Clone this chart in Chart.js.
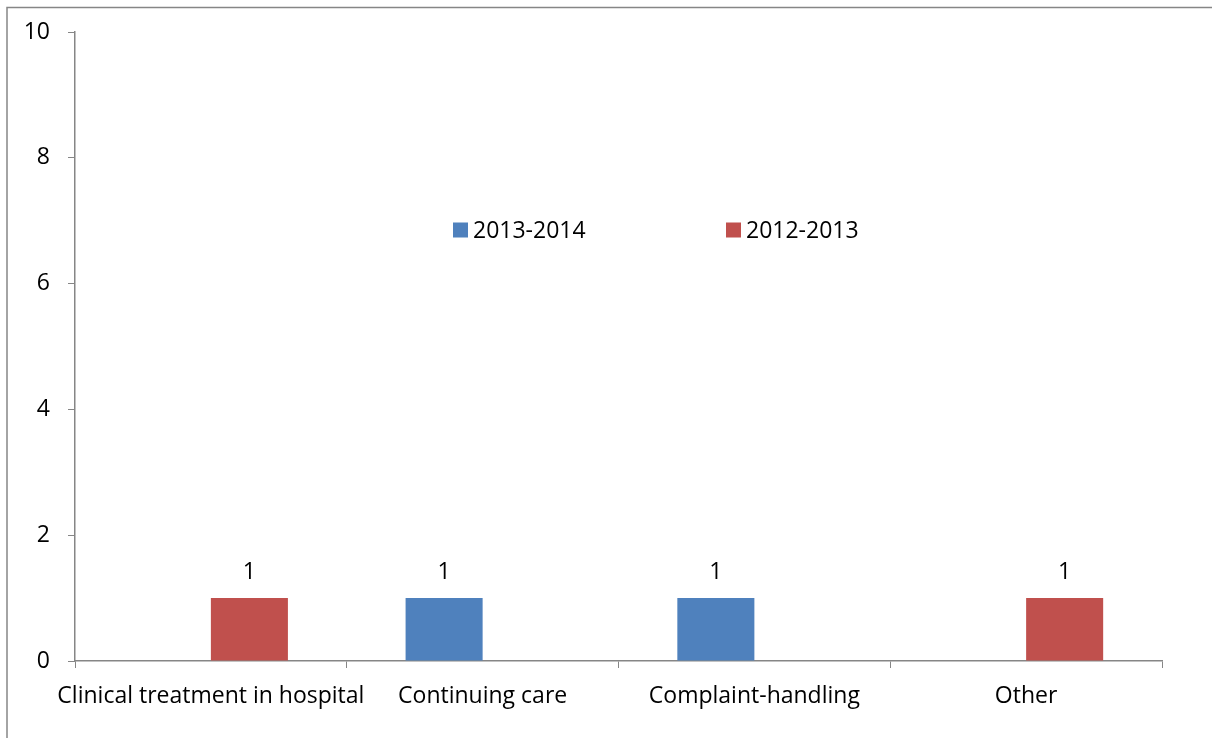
<!DOCTYPE html>
<html>
<head>
<meta charset="utf-8">
<script src="https://cdn.jsdelivr.net/npm/chart.js@4.4.1/dist/chart.umd.min.js"></script>
<style>
  html, body { margin: 0; padding: 0; background: #fff; }
  #wrap { width: 1212px; height: 738px; }
</style>
</head>
<body>
<div id="wrap"><canvas id="myChart" width="1212" height="738"></canvas></div>
<script>
// chart data
const categories = ['Clinical treatment in hospital', 'Continuing care', 'Complaint-handling', 'Other'];
const series2013 = [null, 1, 1, null];
const series2012 = [1, null, null, 1];
const yTicks = [0, 2, 4, 6, 8, 10];

const blue = '#4F81BD';
const red = '#C0504D';
const axisGrey = '#868686';
const fontFamily = "'Open Sans', 'Noto Sans', sans-serif";
const fontSize = 23;

// grey frame round the whole chart
const framePlugin = {
    id: 'frame',
    beforeDraw(chart) {
        const ctx = chart.ctx;
        ctx.save();
        ctx.strokeStyle = axisGrey;
        ctx.lineWidth = 1.5;
        ctx.strokeRect(7, 7.5, chart.width + 20, chart.height + 20);
        ctx.restore();
    }
};

// value labels above the bars
const valueLabels = {
    id: 'valueLabels',
    afterDatasetsDraw(chart) {
        const ctx = chart.ctx;
        ctx.save();
        ctx.font = fontSize + 'px ' + fontFamily;
        ctx.fillStyle = '#000';
        ctx.textAlign = 'center';
        ctx.textBaseline = 'middle';
        chart.data.datasets.forEach((ds, i) => {
            const meta = chart.getDatasetMeta(i);
            meta.data.forEach((bar, j) => {
                const v = ds.data[j];
                if (v === null || v === undefined) return;
                ctx.fillText(String(v), bar.x, bar.y - 26);
            });
        });
        ctx.restore();
    }
};

// legend drawn inside the plot area
const innerLegend = {
    id: 'innerLegend',
    afterDraw(chart) {
        const ctx = chart.ctx;
        const y = 230;
        const starts = [453, 726];
        ctx.save();
        ctx.font = fontSize + 'px ' + fontFamily;
        ctx.textBaseline = 'middle';
        ctx.textAlign = 'left';
        chart.data.datasets.forEach((ds, i) => {
            const x = starts[i];
            ctx.fillStyle = ds.backgroundColor;
            ctx.fillRect(x, y - 7.5, 15, 15);
            ctx.fillStyle = '#000';
            ctx.fillText(ds.label, x + 20, y + 1);
        });
        ctx.restore();
    }
};

const ctx = document.getElementById('myChart').getContext('2d');
new Chart(ctx, {
    type: 'bar',
    data: {
        labels: categories,
        datasets: [
            {
                label: '2013-2014',
                data: series2013,
                backgroundColor: blue
            },
            {
                label: '2012-2013',
                data: series2012,
                backgroundColor: red
            }
        ]
    },
    options: {
        responsive: false,
        animation: false,
        categoryPercentage: 0.567,
        barPercentage: 1,
        layout: {
            padding: { left: 0, top: 32, right: 50, bottom: 0 }
        },
        plugins: {
            legend: { display: false },
            tooltip: { enabled: false }
        },
        scales: {
            x: {
                grid: {
                    offset: true,
                    drawOnChartArea: false,
                    drawTicks: true,
                    tickLength: 7,
                    color: axisGrey
                },
                border: { color: axisGrey, width: 1.5 },
                ticks: {
                    color: '#000',
                    font: { size: fontSize, family: fontFamily },
                    padding: 15,
                    maxRotation: 0,
                    autoSkip: false
                },
                afterFit(scale) { scale.height = 77; }
            },
            y: {
                min: 0,
                max: 10,
                afterBuildTicks(scale) {
                    scale.ticks = yTicks.map(v => ({ value: v }));
                },
                grid: {
                    drawOnChartArea: false,
                    drawTicks: true,
                    tickLength: 7,
                    color: axisGrey
                },
                border: { color: axisGrey, width: 1.5 },
                ticks: {
                    color: '#000',
                    font: { size: fontSize, family: fontFamily },
                    padding: 18
                },
                afterFit(scale) { scale.width = 75; }
            }
        }
    },
    plugins: [framePlugin, valueLabels, innerLegend]
});
</script>
</body>
</html>
